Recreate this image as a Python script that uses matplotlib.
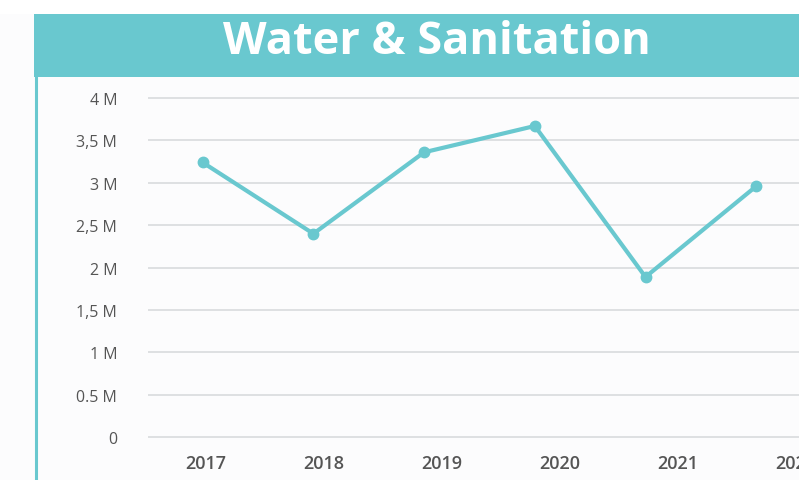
import matplotlib
matplotlib.use('Agg')
import matplotlib.pyplot as plt
from matplotlib.patches import Rectangle
from matplotlib.lines import Line2D

# data (millions)
years = ['2017', '2018', '2019', '2020', '2021', '2022']
values = [3.24, 2.40, 3.36, 3.67, 1.89, 2.96]
ytick_vals = [0, 0.5, 1, 1.5, 2, 2.5, 3, 3.5, 4]
ytick_labels = ['0', '0.5 M', '1 M', '1,5 M', '2 M', '2,5 M', '3 M', '3,5 M', '4 M']
title = 'Water & Sanitation'

teal = '#69C8CF'
grey_txt = '#555555'
W, H = 799, 481

fig = plt.figure(figsize=(W / 100, H / 100), dpi=100)
fig.patch.set_facecolor('#FCFCFD')

# white strip above the header
fig.add_artist(Rectangle((0, 1 - 15 / H), 1, 15 / H, transform=fig.transFigure,
                         facecolor='white', edgecolor='none', zorder=0))
# header band
fig.add_artist(Rectangle((34 / W, 1 - 78 / H), 1, 63 / H, transform=fig.transFigure,
                         facecolor=teal, edgecolor='none', zorder=1))
fig.text(437 / W, 1 - 43 / H, title, color='white', fontsize=32.5, fontweight='bold',
         family='Open Sans', ha='center', va='center', zorder=2)
# left border line
fig.add_artist(Line2D([35.5 / W, 35.5 / W], [0, 1 - 78 / H], transform=fig.transFigure,
                      color=teal, lw=2.2, zorder=2))

# axes: 0 at y=438.3px, 4M at y=99px, pad 0.05 each side
ppu = (438.3 - 99) / 4
bot = 438.3 + 0.05 * ppu
top = 99 - 0.05 * ppu
ax = fig.add_axes([147.7 / W, 1 - bot / H, 1 - 147.7 / W, (bot - top) / H])
ax.set_facecolor('none')
x = list(range(len(years)))
ax.plot(x, values, color=teal, lw=3, marker='o', markersize=7.5, zorder=3,
        solid_capstyle='round')
# points: x=202.7px at 0, spacing 110.7px
ax.set_xlim((147.7 - 202.7) / 110.7, (W - 202.7) / 110.7)
ax.set_ylim(-0.05, 4.05)
ax.set_yticks(ytick_vals)
ax.set_yticklabels(ytick_labels, family='Open Sans', fontsize=11.5, color=grey_txt,
                   fontweight='medium')
ax.tick_params(axis='y', length=0, pad=22)
ax.grid(axis='y', color='#D5D8DB', lw=1.1)
ax.set_xticks([])
for s in ax.spines.values():
    s.set_visible(False)

# year labels sit on their own spacing (205.5px start, 118px apart)
ax2 = ax.twiny()
ax2.xaxis.set_ticks_position('bottom')
ax2.set_xlim((147.7 - 205.5) / 118, (W - 205.5) / 118)
ax2.set_xticks(x)
ax2.set_xticklabels(years, family='Open Sans', fontsize=13, fontweight='semibold',
                    color=grey_txt)
ax2.tick_params(axis='x', length=0, pad=9)
for s in ax2.spines.values():
    s.set_visible(False)

fig.savefig('out.png', dpi=100, facecolor=fig.get_facecolor())
